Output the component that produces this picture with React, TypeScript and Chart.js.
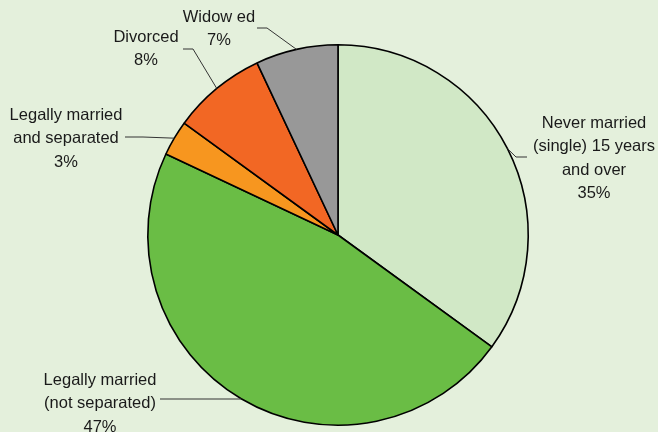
import React, { useEffect, useRef } from "react";
import { Chart, registerables } from "chart.js";

Chart.register(...registerables);

const categories: string[][] = [
  ["Never married", "(single) 15 years", "and over"],
  ["Legally married", "(not separated)"],
  ["Legally married", "and separated"],
  ["Divorced"],
  ["Widow ed"],
];
const shares: number[] = [35, 47, 3, 8, 7];
const sliceColors: string[] = ["#d1e8c6", "#6abd45", "#f7961f", "#f26724", "#989898"];

// label layout: text centre x, first line y, elbow point, elbow end (toward text)
const labelLayout = [
  { x: 594, y: 123, ex: 516, ey: 157, tx: 527 },
  { x: 100, y: 380, ex: 240, ey: 399, tx: 160 },
  { x: 66, y: 115, ex: 143, ey: 137, tx: 125 },
  { x: 146, y: 37, ex: 193, ey: 49, tx: 183 },
  { x: 219, y: 17, ex: 267, ey: 28, tx: 257 },
];

const labelPlugin = {
  id: "pieLabels",
  afterDatasetsDraw(chart: any) {
    const ctx = chart.ctx;
    const meta = chart.getDatasetMeta(0);
    ctx.save();
    ctx.font = "16.5px 'Liberation Sans', Arial, sans-serif";
    ctx.fillStyle = "#1a1a1a";
    ctx.textAlign = "center";
    ctx.textBaseline = "middle";
    meta.data.forEach((arc: any, i: number) => {
      const p = arc.getProps(["x", "y", "startAngle", "endAngle", "outerRadius"], true);
      const mid = (p.startAngle + p.endAngle) / 2;
      const ax = p.x + Math.cos(mid) * p.outerRadius;
      const ay = p.y + Math.sin(mid) * p.outerRadius;
      const L = labelLayout[i];
      ctx.strokeStyle = "#333";
      ctx.lineWidth = 1;
      ctx.beginPath();
      ctx.moveTo(ax, ay);
      ctx.lineTo(L.ex, L.ey);
      ctx.lineTo(L.tx, L.ey);
      ctx.stroke();
      const lines = [...categories[i], shares[i] + "%"];
      lines.forEach((t, k) => {
        ctx.fillText(t, L.x, L.y + k * 23.5);
      });
    });
    ctx.restore();
  },
};

export default function App() {
  const ref = useRef<HTMLCanvasElement>(null);
  useEffect(() => {
    document.body.style.margin = "0";
    const chart = new Chart(ref.current!, {
      type: "pie",
      data: {
        labels: categories.map((c) => c.join(" ")),
        datasets: [
          {
            data: shares,
            backgroundColor: sliceColors,
            borderColor: "#000",
            borderWidth: 1.6,
          },
        ],
      },
      options: {
        animation: false,
        responsive: false,
        layout: { padding: { left: 147, right: 129, top: 44, bottom: 6 } },
        plugins: { legend: { display: false }, tooltip: { enabled: false } },
      },
      plugins: [labelPlugin],
    });
    return () => chart.destroy();
  }, []);
  return (
    <div style={{ position: "fixed", left: 0, top: 0, width: 658, height: 432, background: "#e4f0dc" }}>
      <canvas ref={ref} width={658} height={432} style={{ width: 658, height: 432 }} />
    </div>
  );
}
